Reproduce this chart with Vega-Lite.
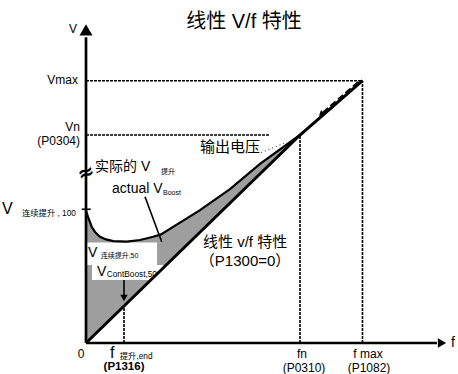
{
  "$schema": "https://vega.github.io/schema/vega-lite/v6.json",
  "width": 458,
  "height": 374,
  "padding": 0,
  "autosize": "none",
  "background": "white",
  "title": {"text": "线性 V/f 特性", "font": "Liberation Sans, Noto Sans CJK SC", "fontSize": 20, "fontWeight": "normal", "color": "#000000", "anchor": "middle", "dx": 15, "offset": -32},
  "config": {"view": {"stroke": null}},
  "datasets": {
    "boost": [
      {"f": 0, "v": 63.5, "lin": 0},
      {"f": 0.47, "v": 60.6, "lin": 0.94},
      {"f": 1.33, "v": 55.9, "lin": 2.66},
      {"f": 2.1, "v": 53.4, "lin": 4.2},
      {"f": 3.27, "v": 51.1, "lin": 6.54},
      {"f": 4.67, "v": 49.8, "lin": 9.34},
      {"f": 6.38, "v": 49.0, "lin": 12.76},
      {"f": 9.51, "v": 48.7, "lin": 19.02},
      {"f": 12.62, "v": 49.5, "lin": 25.24},
      {"f": 15.72, "v": 51.1, "lin": 31.44},
      {"f": 17.52, "v": 52.2, "lin": 35.04},
      {"f": 26.64, "v": 63.9, "lin": 53.28},
      {"f": 33.64, "v": 74.0, "lin": 67.28},
      {"f": 40.65, "v": 86.1, "lin": 81.3},
      {"f": 50, "v": 100, "lin": 100}
    ],
    "boxes": [
      {"f": 0.2, "f2": 16.6, "v": 48.3, "v2": 37.5},
      {"f": 1.4, "f2": 18.0, "v": 37.5, "v2": 30.3}
    ],
    "lines": [
      {"id": "yaxis", "kind": "axis", "o": 1, "f": 0, "v": 0},
      {"id": "yaxis", "kind": "axis", "o": 2, "f": 0, "v": 147},
      {"id": "xaxis", "kind": "axis", "o": 1, "f": 0, "v": 0},
      {"id": "xaxis", "kind": "axis", "o": 2, "f": 82, "v": 0},
      {"id": "linear", "kind": "linear", "o": 1, "f": 0, "v": 0},
      {"id": "linear", "kind": "linear", "o": 2, "f": 50, "v": 100},
      {"id": "linear", "kind": "linear", "o": 3, "f": 64.6, "v": 126.1},
      {"id": "pointer", "kind": "thin", "o": 1, "f": 13.79, "v": 70.3},
      {"id": "pointer", "kind": "thin", "o": 2, "f": 17.68, "v": 48.7},
      {"id": "cont", "kind": "thin", "o": 1, "f": 8.88, "v": 30.3},
      {"id": "cont", "kind": "thin", "o": 2, "f": 8.88, "v": 22},
      {"id": "tick", "kind": "thin", "o": 1, "f": -1.0, "v": 64.3},
      {"id": "tick", "kind": "thin", "o": 2, "f": 1.1, "v": 64.3},
      {"id": "vmax", "kind": "dashed", "o": 1, "f": 0, "v": 126.1},
      {"id": "vmax", "kind": "dashed", "o": 2, "f": 64.6, "v": 126.1},
      {"id": "vn", "kind": "dashed", "o": 1, "f": 0, "v": 100},
      {"id": "vn", "kind": "dashed", "o": 2, "f": 43, "v": 100},
      {"id": "fn", "kind": "dashed", "o": 1, "f": 50, "v": 0},
      {"id": "fn", "kind": "dashed", "o": 2, "f": 50, "v": 100},
      {"id": "fmax", "kind": "dashed", "o": 1, "f": 64.6, "v": 0},
      {"id": "fmax", "kind": "dashed", "o": 2, "f": 64.6, "v": 126.1},
      {"id": "fend", "kind": "dashed", "o": 1, "f": 8.88, "v": 0},
      {"id": "fend", "kind": "dashed", "o": 2, "f": 8.88, "v": 17.76},
      {"id": "out", "kind": "longdash", "o": 1, "f": 63.6, "v": 125.6},
      {"id": "out", "kind": "longdash", "o": 2, "f": 55.07, "v": 110.4},
      {"id": "dots", "kind": "dotted", "o": 1, "f": 40.9, "v": 91.5},
      {"id": "dots", "kind": "dotted", "o": 2, "f": 46.5, "v": 96.2}
    ],
    "heads": [
      {"id": "yaxis", "f": 0, "v": 150.5},
      {"id": "xaxis", "f": 83.18, "v": 0},
      {"id": "cont", "f": 8.88, "v": 21.6},
      {"id": "out", "f": 54.9, "v": 110.1}
    ],
    "labels": [
      {"role": "right", "text": "V", "f": -2.1, "v": 151.1},
      {"role": "right", "text": "Vmax", "f": -1.87, "v": 126.4},
      {"role": "right", "text": "Vn", "f": -1.4, "v": 103.8},
      {"role": "right", "text": "(P0304)", "f": -1.4, "v": 97.1},
      {"role": "center", "text": "0", "f": -1.17, "v": -5.29},
      {"role": "center", "text": "fn", "f": 50.47, "v": -5.05},
      {"role": "center", "text": "(P0310)", "f": 50.93, "v": -11.78},
      {"role": "center", "text": "f max", "f": 65.89, "v": -5.05},
      {"role": "center", "text": "(P1082)", "f": 66.12, "v": -11.78},
      {"role": "centerbold", "text": "(P1316)", "f": 8.88, "v": -11.3},
      {"role": "l14", "text": "实际的 V", "f": 2.1, "v": 84.6},
      {"role": "l14", "text": "actual V", "f": 6.07, "v": 73.8},
      {"role": "l14", "text": "V", "f": 0.47, "v": 43.5},
      {"role": "l14", "text": "V", "f": 2.57, "v": 34.1},
      {"role": "l14", "text": "f", "f": 85.28, "v": 0},
      {"role": "l15", "text": "输出电压", "f": 26.64, "v": 94.2},
      {"role": "l15", "text": "线性 v/f 特性", "f": 27.34, "v": 48.6},
      {"role": "l15", "text": "（P1300=0）", "f": 26.6, "v": 39.4},
      {"role": "l16", "text": "V", "f": -19.63, "v": 64.4},
      {"role": "l16", "text": "f", "f": 5.61, "v": -4.8},
      {"role": "sub7", "text": "提升", "f": 17.52, "v": 82.2},
      {"role": "sub7", "text": "Boost", "f": 17.99, "v": 72.1},
      {"role": "sub7", "text": "连续提升,50", "f": 3.43, "v": 41.8},
      {"role": "sub8", "text": "连续提升 , 100", "f": -14.95, "v": 62.0},
      {"role": "sub8", "text": "提升,end", "f": 7.9, "v": -6.5},
      {"role": "sub8", "text": "ContBoost,50", "f": 4.84, "v": 32.8},
      {"role": "break", "text": "≈", "f": 0, "v": 81.7}
    ]
  },
  "encoding": {
    "x": {"field": "f", "type": "quantitative", "scale": {"domain": [-20.093, 86.916], "nice": false, "zero": false}, "axis": null},
    "y": {"field": "v", "type": "quantitative", "scale": {"domain": [-14.904, 164.904], "nice": false, "zero": false}, "axis": null}
  },
  "layer": [
    {"data": {"name": "boost"}, "mark": {"type": "area", "color": "#9e9e9e", "opacity": 1}, "encoding": {"y2": {"field": "lin"}}},
    {"data": {"name": "boxes"}, "mark": {"type": "rect", "color": "white"}, "encoding": {"x2": {"field": "f2"}, "y2": {"field": "v2"}}},
    {"data": {"name": "boost"}, "mark": {"type": "line", "color": "black", "strokeWidth": 2.2}, "encoding": {}},
    {"data": {"name": "lines"}, "transform": [{"filter": "datum.kind === 'linear'"}], "mark": {"type": "line", "color": "black", "strokeWidth": 3}, "encoding": {"detail": {"field": "id"}, "order": {"field": "o"}}},
    {"data": {"name": "lines"}, "transform": [{"filter": "datum.kind === 'axis'"}], "mark": {"type": "line", "color": "black", "strokeWidth": 2.7}, "encoding": {"detail": {"field": "id"}, "order": {"field": "o"}}},
    {"data": {"name": "lines"}, "transform": [{"filter": "datum.kind === 'thin'"}], "mark": {"type": "line", "color": "black", "strokeWidth": 1.6}, "encoding": {"detail": {"field": "id"}, "order": {"field": "o"}}},
    {"data": {"name": "lines"}, "transform": [{"filter": "datum.kind === 'dashed'"}], "mark": {"type": "line", "color": "black", "strokeWidth": 1.6, "strokeDash": [3, 1]}, "encoding": {"detail": {"field": "id"}, "order": {"field": "o"}}},
    {"data": {"name": "lines"}, "transform": [{"filter": "datum.kind === 'longdash'"}], "mark": {"type": "line", "color": "black", "strokeWidth": 1.6, "strokeDash": [7, 3]}, "encoding": {"detail": {"field": "id"}, "order": {"field": "o"}}},
    {"data": {"name": "lines"}, "transform": [{"filter": "datum.kind === 'dotted'"}], "mark": {"type": "line", "color": "#555555", "strokeWidth": 1.2, "strokeDash": [1, 3]}, "encoding": {"detail": {"field": "id"}, "order": {"field": "o"}}},
    {"data": {"name": "heads"}, "transform": [{"filter": "datum.id === 'yaxis'"}], "mark": {"type": "point", "shape": "triangle-up", "filled": true, "color": "black", "size": 170, "opacity": 1}},
    {"data": {"name": "heads"}, "transform": [{"filter": "datum.id === 'xaxis'"}], "mark": {"type": "point", "shape": "triangle-right", "filled": true, "color": "black", "size": 90, "opacity": 1}},
    {"data": {"name": "heads"}, "transform": [{"filter": "datum.id === 'cont'"}], "mark": {"type": "point", "shape": "triangle-down", "filled": true, "color": "black", "size": 55, "opacity": 1}},
    {"data": {"name": "heads"}, "transform": [{"filter": "datum.id === 'out'"}], "mark": {"type": "point", "shape": "triangle-down", "filled": true, "color": "black", "size": 35, "angle": 50, "opacity": 1}},
    {"data": {"name": "labels"}, "transform": [{"filter": "datum.role === 'right'"}], "mark": {"type": "text", "align": "right", "baseline": "middle", "font": "Liberation Sans, Noto Sans CJK SC", "fontSize": 12, "color": "black"}, "encoding": {"text": {"field": "text"}}},
    {"data": {"name": "labels"}, "transform": [{"filter": "datum.role === 'center'"}], "mark": {"type": "text", "align": "center", "baseline": "middle", "font": "Liberation Sans, Noto Sans CJK SC", "fontSize": 12, "color": "black"}, "encoding": {"text": {"field": "text"}}},
    {"data": {"name": "labels"}, "transform": [{"filter": "datum.role === 'centerbold'"}], "mark": {"type": "text", "align": "center", "baseline": "middle", "font": "Liberation Sans, Noto Sans CJK SC", "fontSize": 11.5, "fontWeight": "bold", "color": "black"}, "encoding": {"text": {"field": "text"}}},
    {"data": {"name": "labels"}, "transform": [{"filter": "datum.role === 'l14'"}], "mark": {"type": "text", "align": "left", "baseline": "middle", "font": "Liberation Sans, Noto Sans CJK SC", "fontSize": 14, "color": "black"}, "encoding": {"text": {"field": "text"}}},
    {"data": {"name": "labels"}, "transform": [{"filter": "datum.role === 'l15'"}], "mark": {"type": "text", "align": "left", "baseline": "middle", "font": "Liberation Sans, Noto Sans CJK SC", "fontSize": 15, "color": "black"}, "encoding": {"text": {"field": "text"}}},
    {"data": {"name": "labels"}, "transform": [{"filter": "datum.role === 'l16'"}], "mark": {"type": "text", "align": "left", "baseline": "middle", "font": "Liberation Sans, Noto Sans CJK SC", "fontSize": 16, "color": "black"}, "encoding": {"text": {"field": "text"}}},
    {"data": {"name": "labels"}, "transform": [{"filter": "datum.role === 'sub7'"}], "mark": {"type": "text", "align": "left", "baseline": "middle", "font": "Liberation Sans, Noto Sans CJK SC", "fontSize": 7, "color": "black"}, "encoding": {"text": {"field": "text"}}},
    {"data": {"name": "labels"}, "transform": [{"filter": "datum.role === 'sub8'"}], "mark": {"type": "text", "align": "left", "baseline": "middle", "font": "Liberation Sans, Noto Sans CJK SC", "fontSize": 8.3, "color": "black"}, "encoding": {"text": {"field": "text"}}},
    {"data": {"name": "labels"}, "transform": [{"filter": "datum.role === 'break'"}], "mark": {"type": "text", "align": "center", "baseline": "middle", "font": "DejaVu Sans", "fontSize": 20, "fontWeight": "bold", "angle": -20, "color": "black"}, "encoding": {"text": {"field": "text"}}}
  ]
}
